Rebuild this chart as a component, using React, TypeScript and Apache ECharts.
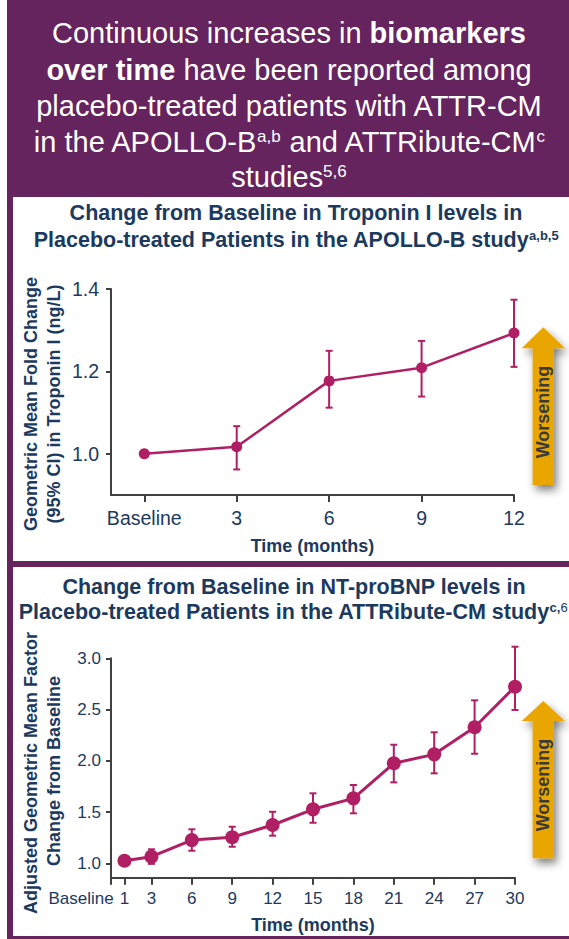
import React, { useEffect, useRef } from 'react';
import * as echarts from 'echarts';

// ---------- data ----------
const troponinMonths = [0, 3, 6, 9, 12];
const troponinMean = [1.0, 1.017, 1.177, 1.209, 1.293];
const troponinLow = [null, 0.962, 1.112, 1.139, 1.211];
const troponinHigh = [null, 1.067, 1.25, 1.274, 1.374];
const troponinXTicks = [0, 3, 6, 9, 12];
const troponinYTicks = [1.0, 1.2, 1.4];

const ntMonths = [1, 3, 6, 9, 12, 15, 18, 21, 24, 27, 30];
const ntMean = [1.025, 1.065, 1.227, 1.254, 1.374, 1.527, 1.634, 1.976, 2.063, 2.327, 2.723];
const ntLow = [0.995, 0.995, 1.123, 1.162, 1.27, 1.396, 1.488, 1.79, 1.878, 2.069, 2.496];
const ntHigh = [1.055, 1.137, 1.332, 1.357, 1.503, 1.683, 1.764, 2.157, 2.278, 2.59, 3.113];
const ntXTicks = [0, 1, 3, 6, 9, 12, 15, 18, 21, 24, 27, 30];
const ntYTicks = [1.0, 1.5, 2.0, 2.5, 3.0];

// ---------- styles ----------
const NAVY = '#1b3a5e';
const PURPLE = '#66245f';
const MAGENTA = '#b01e63';
const AXIS = '#404040';
const GOLD = '#e9a602';
const FONT = '"Liberation Sans", Arial, Helvetica, sans-serif';

function errorRenderer(color: string, halfCap: number, width: number) {
  return (params: any, api: any) => {
    const x = api.value(0);
    const lo = api.value(1);
    const hi = api.value(2);
    const pLo = api.coord([x, lo]);
    const pHi = api.coord([x, hi]);
    const st = { stroke: color, lineWidth: width };
    return {
      type: 'group',
      children: [
        { type: 'line', shape: { x1: pLo[0], y1: pLo[1], x2: pHi[0], y2: pHi[1] }, style: st },
        { type: 'line', shape: { x1: pLo[0] - halfCap, y1: pLo[1], x2: pLo[0] + halfCap, y2: pLo[1] }, style: st },
        { type: 'line', shape: { x1: pHi[0] - halfCap, y1: pHi[1], x2: pHi[0] + halfCap, y2: pHi[1] }, style: st },
      ],
    };
  };
}

function arrow(tipY: number, headBaseY: number, bottomY: number) {
  const cx = 543.3;
  return {
    type: 'polygon',
    shape: {
      points: [
        [cx, tipY],
        [565, headBaseY],
        [553.8, headBaseY],
        [553.8, bottomY],
        [532.6, bottomY],
        [532.6, headBaseY],
        [521.7, headBaseY],
      ],
    },
    style: {
      fill: GOLD,
      shadowBlur: 8,
      shadowColor: 'rgba(0,0,0,0.5)',
      shadowOffsetX: 3,
      shadowOffsetY: 5,
    },
  };
}

function vText(x: number, y: number, text: string) {
  return {
    type: 'text',
    x,
    y,
    rotation: Math.PI / 2,
    style: {
      text,
      align: 'center',
      verticalAlign: 'middle',
      fill: NAVY,
      fontSize: 18,
      fontWeight: 'bold',
      fontFamily: FONT,
    },
  };
}

const headerRich = {
  r: { fill: '#fff', fontSize: 29, fontFamily: FONT },
  b: { fill: '#fff', fontSize: 29, fontFamily: FONT, fontWeight: 'bold' },
  sup: { fill: '#fff', fontSize: 17, fontFamily: FONT, verticalAlign: 'top' },
};

function headerLine(y: number, text: string) {
  return {
    type: 'text',
    x: 289,
    y,
    style: {
      text,
      align: 'center',
      verticalAlign: 'middle',
      fill: '#fff',
      fontSize: 29,
      fontFamily: FONT,
      rich: headerRich,
    },
  };
}

const titleRich = {
  m: { fill: NAVY, fontSize: 21.5, fontWeight: 'bold', fontFamily: FONT },
  s: { fill: NAVY, fontSize: 13, fontWeight: 'bold', fontFamily: FONT, verticalAlign: 'top' },
  s2: { fill: NAVY, fontSize: 13, fontFamily: FONT, verticalAlign: 'top' },
};

function titleLine(x: number, y: number, text: string) {
  return {
    type: 'text',
    x,
    y,
    style: {
      text,
      align: 'center',
      verticalAlign: 'middle',
      fill: NAVY,
      fontSize: 21.5,
      fontWeight: 'bold',
      fontFamily: FONT,
      rich: titleRich,
    },
  };
}

export default function App() {
  const ref = useRef<HTMLDivElement>(null);

  useEffect(() => {
    document.body.style.margin = '0';
    const chart = echarts.init(ref.current!, null, { renderer: 'svg', width: 569, height: 939 });

    const axisLineStyle = { color: AXIS, width: 2 };

    const option: any = {
      animation: false,
      backgroundColor: '#ffffff',
      grid: [
        { left: 111, top: 289, width: 403, height: 206, outerBoundsMode: 'none', containLabel: false },
        { left: 111, top: 658.3, width: 404, height: 219.4, outerBoundsMode: 'none', containLabel: false },
      ],
      xAxis: [
        {
          type: 'value',
          gridIndex: 0,
          min: -1.08,
          max: 12,
          splitLine: { show: false },
          axisLine: { show: true, onZero: false, lineStyle: axisLineStyle },
          axisTick: { show: true, customValues: troponinXTicks, length: 7, lineStyle: axisLineStyle },
          axisLabel: {
            customValues: troponinXTicks,
            formatter: (v: number) => (v === 0 ? 'Baseline' : String(v)),
            color: NAVY,
            fontSize: 19.5,
            fontFamily: FONT,
            margin: 13,
          },
          name: 'Time (months)',
          nameLocation: 'middle',
          nameGap: 42,
          nameTextStyle: { color: NAVY, fontSize: 18, fontWeight: 'bold', fontFamily: FONT },
        },
        {
          type: 'value',
          gridIndex: 1,
          min: 0,
          max: 30,
          splitLine: { show: false },
          axisLine: { show: true, onZero: false, lineStyle: axisLineStyle },
          axisTick: { show: true, customValues: ntXTicks, length: 7, lineStyle: axisLineStyle },
          axisLabel: {
            customValues: ntXTicks,
            formatter: (v: number) => (v === 0 ? '{base|Baseline}' : String(v)),
            color: NAVY,
            fontSize: 17,
            fontFamily: FONT,
            margin: 12,
            rich: {
              base: { color: NAVY, fontSize: 17, fontFamily: FONT, padding: [0, 60, 0, 0] },
            },
          },
          name: 'Time (months)',
          nameLocation: 'middle',
          nameGap: 38,
          nameTextStyle: { color: NAVY, fontSize: 18, fontWeight: 'bold', fontFamily: FONT },
        },
      ],
      yAxis: [
        {
          type: 'value',
          gridIndex: 0,
          min: 0.9,
          max: 1.4,
          splitLine: { show: false },
          axisLine: { show: true, onZero: false, lineStyle: axisLineStyle },
          axisTick: { show: true, customValues: troponinYTicks, length: 5, lineStyle: axisLineStyle },
          axisLabel: {
            customValues: troponinYTicks,
            formatter: (v: number) => v.toFixed(1),
            color: NAVY,
            fontSize: 19.5,
            fontFamily: FONT,
            margin: 12,
          },
        },
        {
          type: 'value',
          gridIndex: 1,
          min: 0.86,
          max: 3.0,
          splitLine: { show: false },
          axisLine: { show: true, onZero: false, lineStyle: axisLineStyle },
          axisTick: { show: true, customValues: ntYTicks, length: 5, lineStyle: axisLineStyle },
          axisLabel: {
            customValues: ntYTicks,
            formatter: (v: number) => v.toFixed(1),
            color: NAVY,
            fontSize: 17,
            fontFamily: FONT,
            margin: 10,
          },
        },
      ],
      series: [
        {
          type: 'custom',
          xAxisIndex: 0,
          yAxisIndex: 0,
          clip: false,
          encode: { x: 0, y: [1, 2] },
          data: troponinMonths
            .map((m, i) => [m, troponinLow[i], troponinHigh[i]])
            .filter((d) => d[1] != null),
          renderItem: errorRenderer(MAGENTA, 3.5, 2),
          z: 2,
        },
        {
          type: 'line',
          xAxisIndex: 0,
          yAxisIndex: 0,
          data: troponinMonths.map((m, i) => [m, troponinMean[i]]),
          symbol: 'circle',
          symbolSize: 11,
          lineStyle: { color: MAGENTA, width: 2.5 },
          itemStyle: { color: MAGENTA },
          z: 3,
        },
        {
          type: 'custom',
          xAxisIndex: 1,
          yAxisIndex: 1,
          clip: false,
          encode: { x: 0, y: [1, 2] },
          data: ntMonths.map((m, i) => [m, ntLow[i], ntHigh[i]]),
          renderItem: errorRenderer(MAGENTA, 3.5, 2),
          z: 2,
        },
        {
          type: 'line',
          xAxisIndex: 1,
          yAxisIndex: 1,
          data: ntMonths.map((m, i) => [m, ntMean[i]]),
          symbol: 'circle',
          symbolSize: 14,
          lineStyle: { color: MAGENTA, width: 3 },
          itemStyle: { color: MAGENTA },
          z: 3,
        },
      ],
      graphic: [
        // frame
        { type: 'rect', shape: { x: 7, y: 0, width: 562, height: 197 }, style: { fill: PURPLE } },
        { type: 'rect', shape: { x: 7, y: 0, width: 6, height: 939 }, style: { fill: PURPLE } },
        { type: 'rect', shape: { x: 7, y: 561, width: 562, height: 6 }, style: { fill: PURPLE } },
        { type: 'rect', shape: { x: 7, y: 936, width: 562, height: 3 }, style: { fill: PURPLE } },
        // header
        headerLine(33, '{r|Continuous increases in }{b|biomarkers}'),
        headerLine(69.5, '{b|over time}{r| have been reported among}'),
        headerLine(106, '{r|placebo-treated patients with ATTR-CM}'),
        headerLine(142, '{r|in the APOLLO-B}{sup|a,b}{r| and ATTRibute-CM}{sup|c}'),
        headerLine(177, '{r|studies}{sup|5,6}'),
        // titles
        titleLine(296, 213.3, '{m|Change from Baseline in Troponin I levels in}'),
        titleLine(296, 240, '{m|Placebo-treated Patients in the APOLLO-B study}{s|a,b,5}'),
        titleLine(294, 587, '{m|Change from Baseline in NT-proBNP levels in}'),
        titleLine(293, 612, '{m|Placebo-treated Patients in the ATTRibute-CM study}{s|c,}{s2|6}'),
        // y axis names
        vText(30.5, 404, 'Geometric Mean Fold Change'),
        vText(53.7, 404, '(95% CI) in Troponin I (ng/L)'),
        vText(30.8, 773, 'Adjusted Geometric Mean Factor'),
        vText(53.7, 771, 'Change from Baseline'),
        // arrows
        arrow(327.3, 348.3, 485),
        {
          type: 'text',
          x: 543.3,
          y: 412,
          rotation: Math.PI / 2,
          style: { text: 'Worsening', align: 'center', verticalAlign: 'middle', fill: '#3a3a3a', fontSize: 18, fontWeight: 'bold', fontFamily: FONT },
        },
        arrow(701, 721, 858.3),
        {
          type: 'text',
          x: 543.3,
          y: 785,
          rotation: Math.PI / 2,
          style: { text: 'Worsening', align: 'center', verticalAlign: 'middle', fill: '#3a3a3a', fontSize: 18, fontWeight: 'bold', fontFamily: FONT },
        },
      ],
    };

    chart.setOption(option);
    return () => chart.dispose();
  }, []);

  return (
    <div
      ref={ref}
      style={{ position: 'absolute', left: 0, top: 0, width: 569, height: 939, background: '#fff' }}
    />
  );
}
